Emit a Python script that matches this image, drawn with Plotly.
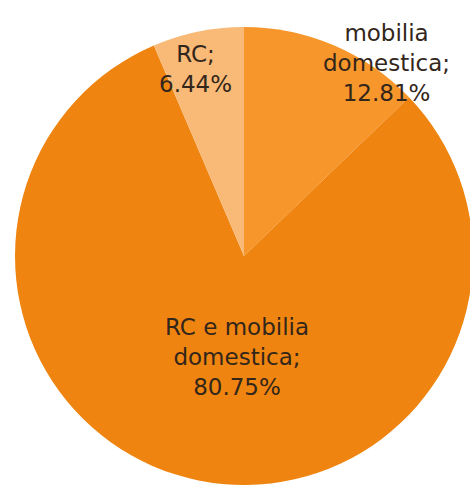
import plotly.graph_objects as go

labels = ["mobilia domestica", "RC e mobilia domestica", "RC"]
values = [12.81, 80.75, 6.44]
colors = ["#F7962B", "#EF8510", "#F9BA78"]

W, H = 480, 492
cx, cy, r = 244, 256, 229

fig = go.Figure(go.Pie(
    labels=labels,
    values=values,
    sort=False,
    direction="clockwise",
    rotation=0,
    marker=dict(colors=colors, line=dict(width=0)),
    textinfo="none",
    hoverinfo="label+percent",
    domain=dict(x=[(cx - r) / W, (cx + r) / W],
                y=[(H - cy - r) / H, (H - cy + r) / H]),
    showlegend=False,
))

label_lines = [
    "mobilia<br>domestica;<br>{:.2f}%".format(values[0]),
    "RC e mobilia<br>domestica;<br>{:.2f}%".format(values[1]),
    "RC;<br>{:.2f}%".format(values[2]),
]
label_pos = [(386, 63), (237, 357), (195, 69)]
for txt, (px, py) in zip(label_lines, label_pos):
    fig.add_annotation(x=px / W, y=1 - py / H, xref="paper", yref="paper",
                       xanchor="center", yanchor="middle",
                       text=txt, showarrow=False,
                       font=dict(family="DejaVu Sans", size=23, color="#33261a"))

fig.update_layout(width=W, height=H, margin=dict(l=0, r=0, t=0, b=0),
                  paper_bgcolor="white", plot_bgcolor="white")
fig.write_html("out.html",
               config={"displayModeBar": False},
               post_script="document.body.style.margin='0';"
                           "document.body.style.overflow='hidden';"
                           "document.documentElement.style.overflow='hidden';")
